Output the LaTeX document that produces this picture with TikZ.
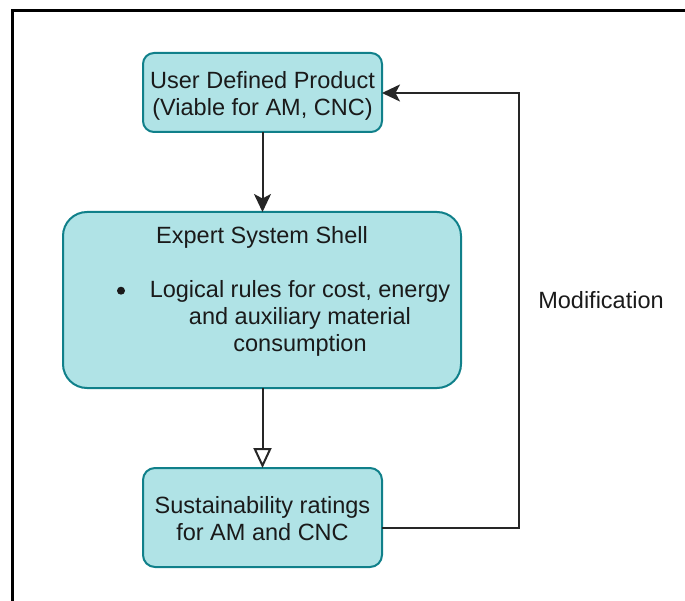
\documentclass[tikz,border=0pt]{standalone}
\usepackage{fontspec}
\setmainfont{Liberation Sans}
\usetikzlibrary{arrows.meta}
\definecolor{boxfill}{HTML}{B0E3E6}
\definecolor{boxline}{HTML}{10808A}
\definecolor{txt}{HTML}{1A1A1A}
\tikzset{
  flowbox/.style={draw=boxline, fill=boxfill, line width=2pt, inner sep=0pt},
  link/.style={draw=black!85, line width=2pt},
  lbl/.style={text=txt, font=\fontsize{23.5}{27}\selectfont, inner sep=0pt, anchor=base},
  classic/.style={-{Stealth[length=18pt,width=17pt,inset=4.5pt]}},
}
\begin{document}
\begin{tikzpicture}[x=1pt, y=-1pt]
  \useasboundingbox (0,0) rectangle (685,601);
  % page frame
  \begin{scope}
    \clip (0,0) rectangle (685,601);
    \draw[line width=2.6pt] (12.5,610) -- (12.5,10.5) -- (700,10.5);
  \end{scope}

  % boxes
  \draw[flowbox, rounded corners=11pt] (143,53) rectangle (382,132);
  \draw[flowbox, rounded corners=24pt] (63,212) rectangle (461,388);
  \draw[flowbox, rounded corners=12pt] (143,468) rectangle (382,567);
  \coordinate (userT) at (262.5,53);
  \coordinate (userB) at (262.5,132);
  \coordinate (userR) at (382,93);
  \coordinate (shellT) at (262.5,212);
  \coordinate (shellB) at (262.5,388);
  \coordinate (rateT) at (262.5,468);
  \coordinate (rateR) at (382,528);
  \coordinate (loopA) at (519,528);
  \coordinate (loopB) at (519,93);

  % texts
  \node[lbl] (u1) at (262.5,89) {User Defined Product};
  \node[lbl] (u2) at (262.5,116) {(Viable for AM, CNC)};
  \node[lbl] (s0) at (262,244) {Expert System Shell};
  \fill[txt] (121,290.7) circle (4pt);
  \node[lbl] (s1) at (300,298) {Logical rules for cost, energy};
  \node[lbl] (s2) at (300,325) {and auxiliary material};
  \node[lbl] (s3) at (300,352) {consumption};
  \node[lbl] (r1) at (262.5,513) {Sustainability ratings};
  \node[lbl] (r2) at (262.5,540) {for AM and CNC};
  \node[lbl] (mod) at (601,309) {Modification};

  % connectors
  \draw[link, classic] (userB) -- (shellT);
  \draw[link, -{Triangle[open,length=20pt,width=18pt,fill=white]}] (shellB) -- (rateT);
  \draw[link, classic] (rateR) -- (loopA) -- (loopB) -- (userR);
\end{tikzpicture}
\end{document}
